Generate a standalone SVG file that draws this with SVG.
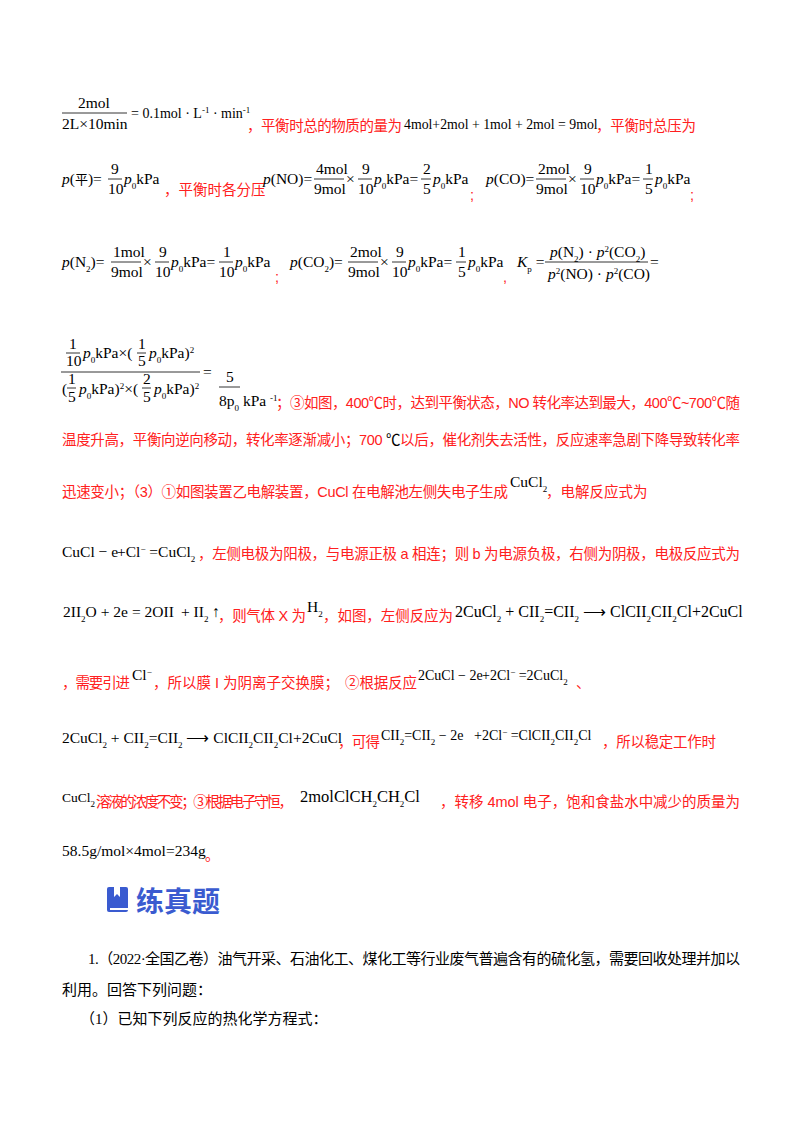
<svg xmlns="http://www.w3.org/2000/svg" width="800" height="1132" viewBox="0 0 800 1132">
<style>
.m{font-family:"Liberation Serif",serif;font-size:15.5px;fill:#000}
.i{font-style:italic}
.r{font-family:"Liberation Sans","Noto Sans CJK SC",sans-serif;font-size:14.5px;fill:#ff2020}
.k{font-family:"Liberation Serif","Noto Sans CJK SC",serif;font-size:15px;fill:#000}
.s{font-size:9px;baseline-shift:sub}
.u{font-size:9px;baseline-shift:super}
.bar{stroke:#000;stroke-width:0.8}
</style>
<rect width="800" height="1132" fill="#fff"/>
<g id="line1">
<text class="m" x="78" y="108">2mol</text>
<line class="bar" x1="62" y1="113" x2="127" y2="113"/>
<text class="m" x="62" y="129">2L×10min</text>
<text class="m" x="131" y="118" style="font-size:14px">= 0.1mol · L<tspan class="u">-1</tspan> · min<tspan class="u">-1</tspan></text>
<text class="r" x="247" y="131" textLength="155">，平衡时总的物质的量为</text>
<text class="m" x="404" y="129" style="font-size:13.8px">4mol+2mol + 1mol + 2mol = 9mol</text>
<text class="r" x="596" y="131" textLength="100">，平衡时总压为</text>
</g>
<g id="line2">
<text class="m" x="62" y="184"><tspan class="i">p</tspan>(<tspan style="font-family:'Noto Sans CJK SC';font-size:13px">平</tspan>)=</text>
<text class="m" x="111" y="174">9</text><line class="bar" x1="108" y1="179" x2="122" y2="179"/><text class="m" x="108" y="194">10</text>
<text class="m" x="124" y="184"><tspan class="i">p</tspan><tspan class="s">0</tspan>kPa</text>
<text class="r" x="164" y="195">，平衡时各分压</text>
<text class="m" x="263" y="184"><tspan class="i">p</tspan>(NO)=</text>
<text class="m" x="316" y="174">4mol</text><line class="bar" x1="314" y1="179" x2="344" y2="179"/><text class="m" x="314" y="194">9mol</text>
<text class="m" x="346" y="184">×</text>
<text class="m" x="362" y="174">9</text><line class="bar" x1="358" y1="179" x2="372" y2="179"/><text class="m" x="358" y="194">10</text>
<text class="m" x="374" y="184"><tspan class="i">p</tspan><tspan class="s">0</tspan>kPa=</text>
<text class="m" x="423" y="174">2</text><line class="bar" x1="421" y1="179" x2="431" y2="179"/><text class="m" x="423" y="194">5</text>
<text class="m" x="433" y="184"><tspan class="i">p</tspan><tspan class="s">0</tspan>kPa</text>
<text class="r" x="470" y="200">;</text>
<text class="m" x="486" y="184"><tspan class="i">p</tspan>(CO)=</text>
<text class="m" x="538" y="174">2mol</text><line class="bar" x1="536" y1="179" x2="566" y2="179"/><text class="m" x="536" y="194">9mol</text>
<text class="m" x="568" y="184">×</text>
<text class="m" x="584" y="174">9</text><line class="bar" x1="580" y1="179" x2="594" y2="179"/><text class="m" x="580" y="194">10</text>
<text class="m" x="596" y="184"><tspan class="i">p</tspan><tspan class="s">0</tspan>kPa=</text>
<text class="m" x="645" y="174">1</text><line class="bar" x1="643" y1="179" x2="653" y2="179"/><text class="m" x="645" y="194">5</text>
<text class="m" x="655" y="184"><tspan class="i">p</tspan><tspan class="s">0</tspan>kPa</text>
<text class="r" x="690" y="200">;</text>
</g>
<g id="line3">
<text class="m" x="62" y="267"><tspan class="i">p</tspan>(N<tspan class="s">2</tspan>)=</text>
<text class="m" x="113" y="257">1mol</text><line class="bar" x1="111" y1="262" x2="141" y2="262"/><text class="m" x="111" y="277">9mol</text>
<text class="m" x="143" y="267">×</text>
<text class="m" x="159" y="257">9</text><line class="bar" x1="155" y1="262" x2="169" y2="262"/><text class="m" x="155" y="277">10</text>
<text class="m" x="171" y="267"><tspan class="i">p</tspan><tspan class="s">0</tspan>kPa=</text>
<text class="m" x="223" y="257">1</text><line class="bar" x1="219" y1="262" x2="233" y2="262"/><text class="m" x="219" y="277">10</text>
<text class="m" x="235" y="267"><tspan class="i">p</tspan><tspan class="s">0</tspan>kPa</text>
<text class="r" x="275" y="282">;</text>
<text class="m" x="290" y="267"><tspan class="i">p</tspan>(CO<tspan class="s">2</tspan>)=</text>
<text class="m" x="350" y="257">2mol</text><line class="bar" x1="348" y1="262" x2="378" y2="262"/><text class="m" x="348" y="277">9mol</text>
<text class="m" x="380" y="267">×</text>
<text class="m" x="396" y="257">9</text><line class="bar" x1="392" y1="262" x2="406" y2="262"/><text class="m" x="392" y="277">10</text>
<text class="m" x="408" y="267"><tspan class="i">p</tspan><tspan class="s">0</tspan>kPa=</text>
<text class="m" x="458" y="257">1</text><line class="bar" x1="456" y1="262" x2="466" y2="262"/><text class="m" x="458" y="277">5</text>
<text class="m" x="468" y="267"><tspan class="i">p</tspan><tspan class="s">0</tspan>kPa</text>
<text class="r" x="503" y="282">,</text>
<text class="m" x="517" y="267"><tspan class="i">K</tspan><tspan class="s">p</tspan> =</text>
<text class="m" x="550" y="257"><tspan class="i">p</tspan>(N<tspan class="s">2</tspan>) · <tspan class="i">p</tspan><tspan class="u">2</tspan>(CO<tspan class="s">2</tspan>)</text>
<line class="bar" x1="545" y1="262" x2="648" y2="262"/>
<text class="m" x="548" y="279"><tspan class="i">p</tspan><tspan class="u">2</tspan>(NO) · <tspan class="i">p</tspan><tspan class="u">2</tspan>(CO)</text>
<text class="m" x="650" y="267">=</text>
</g>
<g id="line4">
<text class="m" x="69" y="349">1</text><line class="bar" x1="66" y1="353" x2="80" y2="353"/><text class="m" x="66" y="366">10</text>
<text class="m" x="83" y="358"><tspan class="i">p</tspan><tspan class="s">0</tspan>kPa×(</text>
<text class="m" x="138" y="349">1</text><line class="bar" x1="137" y1="353" x2="146" y2="353"/><text class="m" x="138" y="366">5</text>
<text class="m" x="149" y="358"><tspan class="i">p</tspan><tspan class="s">0</tspan>kPa)<tspan class="u">2</tspan></text>
<line class="bar" x1="61" y1="372" x2="200" y2="372"/>
<text class="m" x="62" y="394">(</text>
<text class="m" x="68" y="384">1</text><line class="bar" x1="67" y1="388" x2="76" y2="388"/><text class="m" x="68" y="402">5</text>
<text class="m" x="79" y="394"><tspan class="i">p</tspan><tspan class="s">0</tspan>kPa)<tspan class="u">2</tspan>×(</text>
<text class="m" x="143" y="384">2</text><line class="bar" x1="142" y1="388" x2="151" y2="388"/><text class="m" x="143" y="402">5</text>
<text class="m" x="154" y="394"><tspan class="i">p</tspan><tspan class="s">0</tspan>kPa)<tspan class="u">2</tspan></text>
<text class="m" x="203" y="377">=</text>
<text class="m" x="226" y="382">5</text><line class="bar" x1="219" y1="387" x2="240" y2="387"/>
<text class="m" x="219" y="406">8p<tspan class="s">0</tspan>  kPa <tspan class="u">-1</tspan></text>
<text class="r" x="276" y="408" textLength="464">；③如图，400℃时，达到平衡状态，NO 转化率达到最大，400℃~700℃随</text>
</g>
<g id="line5">
<text class="r" x="62" y="445" textLength="678">温度升高，平衡向逆向移动，转化率逐渐减小；700 <tspan fill="#000">℃</tspan>以后，催化剂失去活性，反应速率急剧下降导致转化率</text>
</g>
<g id="line6">
<text class="r" x="62" y="497" textLength="446">迅速变小；（3）①如图装置乙电解装置，CuCl 在电解池左侧失电子生成</text>
<text class="m" x="510" y="487">CuCl<tspan class="s">2</tspan></text>
<text class="r" x="546" y="497">，电解反应式为</text>
</g>
<g id="line7">
<text class="m" x="62" y="557">CuCl − e<tspan x="117">+Cl</tspan><tspan class="u">−</tspan> =CuCl<tspan class="s">2</tspan></text>
<text class="r" x="198" y="559" textLength="542">，左侧电极为阳极，与电源正极 a 相连；则 b 为电源负极，右侧为阴极，电极反应式为</text>
</g>
<g id="line8">
<text class="m" x="63" y="617">2II<tspan class="s">2</tspan>O + 2e<tspan x="132">= 2OII</tspan><tspan x="181">+ II</tspan><tspan class="s">2</tspan> ↑</text>
<text class="r" x="218" y="621" textLength="88">，则气体 X 为</text>
<text class="m" x="307" y="612">H<tspan class="s">2</tspan></text>
<text class="r" x="323" y="621" textLength="130">，如图，左侧反应为</text>
<text class="m" x="455" y="617" style="font-size:16px">2CuCl<tspan class="s">2</tspan> + CII<tspan class="s">2</tspan>=CII<tspan class="s">2</tspan> ⟶ ClCII<tspan class="s">2</tspan>CII<tspan class="s">2</tspan>Cl+2CuCl</text>
</g>
<g id="line9">
<text class="r" x="62" y="688" textLength="68">，需要引进</text>
<text class="m" x="132" y="680">Cl<tspan class="u">−</tspan></text>
<text class="r" x="153" y="688" textLength="186">，所以膜 I 为阴离子交换膜；</text>
<text class="r" x="345" y="688" textLength="72">②根据反应</text>
<text class="m" x="418" y="680" style="font-size:14px">2CuCl − 2e<tspan x="482">+2Cl</tspan><tspan class="u">−</tspan> =2CuCl<tspan class="s">2</tspan></text>
<text class="r" x="576" y="688">、</text>
</g>
<g id="line10">
<text class="m" x="62" y="743">2CuCl<tspan class="s">2</tspan> + CII<tspan class="s">2</tspan>=CII<tspan class="s">2</tspan> ⟶ ClCII<tspan class="s">2</tspan>CII<tspan class="s">2</tspan>Cl+2CuCl</text>
<text class="r" x="338" y="747" textLength="42">，可得</text>
<text class="m" x="381" y="740" style="font-size:14px">CII<tspan class="s">2</tspan>=CII<tspan class="s">2</tspan> − 2e<tspan x="474">+2Cl</tspan><tspan class="u">−</tspan> =ClCII<tspan class="s">2</tspan>CII<tspan class="s">2</tspan>Cl</text>
<text class="r" x="602" y="747" textLength="114">，所以稳定工作时</text>
</g>
<g id="line11">
<text class="m" x="62" y="802" style="font-size:13.5px">CuCl<tspan class="s">2</tspan></text>
<text class="r" x="96" y="807" textLength="197">溶液的浓度不变；③根据电子守恒，</text>
<text class="m" x="300" y="802" style="font-size:16.5px">2molClCH<tspan class="s">2</tspan>CH<tspan class="s">2</tspan>Cl</text>
<text class="r" x="440" y="807" textLength="300">，转移 4mol 电子，饱和食盐水中减少的质量为</text>
</g>
<g id="line12">
<text class="m" x="62" y="856">58.5g/mol×4mol=234g</text>
<text class="r" x="205" y="860">。</text>
</g>
<g id="heading">
<rect x="107" y="887" width="21" height="25" rx="2" fill="#3a5bd0"/>
<rect x="110" y="908" width="18" height="2" fill="#fff"/>
<path d="M114 887 v10 l3 -3 l3 3 v-10 z" fill="#fff"/>
<text x="136" y="912" font-family="'Noto Sans CJK SC',sans-serif" font-size="28" font-weight="bold" fill="#3a5bd0">练真题</text>
</g>
<g id="question">
<text class="k" x="88" y="964" textLength="652">1.（2022·全国乙卷）油气开采、石油化工、煤化工等行业废气普遍含有的硫化氢，需要回收处理并加以</text>
<text class="k" x="62" y="995">利用。回答下列问题：</text>
<text class="k" x="80" y="1024">（1）已知下列反应的热化学方程式：</text>
</g>
</svg>
